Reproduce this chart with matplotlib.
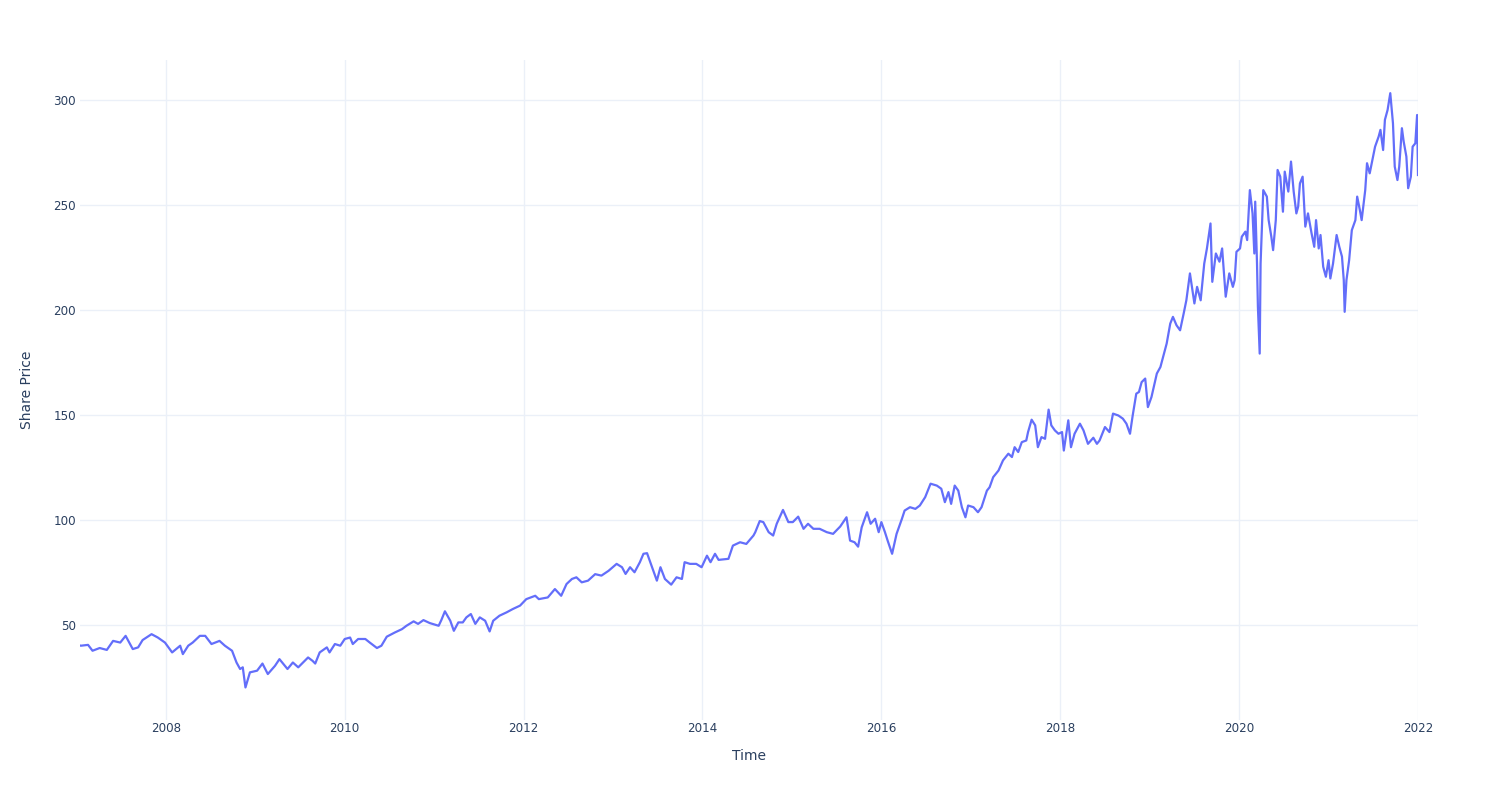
import matplotlib
matplotlib.use("Agg")
import matplotlib.pyplot as plt

# Share price (x = decimal year)
years = [
    2007.04, 2007.05, 2007.13, 2007.18, 2007.26, 2007.34, 2007.41, 2007.49, 2007.55, 2007.63,
    2007.69, 2007.74, 2007.84, 2007.91, 2007.99, 2008.07, 2008.16, 2008.19, 2008.25, 2008.30,
    2008.38, 2008.44, 2008.51, 2008.60, 2008.66, 2008.74, 2008.79, 2008.83, 2008.86, 2008.89,
    2008.94, 2009.02, 2009.08, 2009.14, 2009.22, 2009.27, 2009.36, 2009.42, 2009.48, 2009.59,
    2009.64, 2009.67, 2009.72, 2009.80, 2009.83, 2009.89, 2009.95, 2010.00, 2010.06, 2010.09,
    2010.15, 2010.23, 2010.28, 2010.36, 2010.41, 2010.47, 2010.56, 2010.64, 2010.69, 2010.77,
    2010.82, 2010.88, 2010.95, 2011.05, 2011.08, 2011.12, 2011.18, 2011.22, 2011.27, 2011.32,
    2011.36, 2011.41, 2011.46, 2011.51, 2011.57, 2011.62, 2011.66, 2011.73, 2011.81, 2011.88,
    2011.96, 2012.03, 2012.13, 2012.17, 2012.27, 2012.35, 2012.42, 2012.48, 2012.54, 2012.59,
    2012.65, 2012.72, 2012.80, 2012.87, 2012.95, 2013.04, 2013.10, 2013.14, 2013.19, 2013.24,
    2013.30, 2013.34, 2013.38, 2013.41, 2013.45, 2013.49, 2013.53, 2013.58, 2013.65, 2013.71,
    2013.77, 2013.80, 2013.86, 2013.93, 2013.99, 2014.05, 2014.09, 2014.14, 2014.18, 2014.29,
    2014.34, 2014.42, 2014.49, 2014.57, 2014.59, 2014.64, 2014.68, 2014.74, 2014.79, 2014.83,
    2014.90, 2014.96, 2015.01, 2015.07, 2015.13, 2015.18, 2015.24, 2015.31, 2015.39, 2015.46,
    2015.54, 2015.61, 2015.65, 2015.70, 2015.74, 2015.78, 2015.84, 2015.88, 2015.93, 2015.97,
    2016.00, 2016.04, 2016.07, 2016.12, 2016.17, 2016.23, 2016.26, 2016.32, 2016.38, 2016.43,
    2016.49, 2016.55, 2016.62, 2016.67, 2016.71, 2016.75, 2016.78, 2016.82, 2016.86, 2016.90,
    2016.94, 2016.97, 2017.03, 2017.08, 2017.12, 2017.18, 2017.21, 2017.25, 2017.31, 2017.36,
    2017.42, 2017.46, 2017.49, 2017.53, 2017.57, 2017.62, 2017.64, 2017.68, 2017.72, 2017.75,
    2017.79, 2017.83, 2017.87, 2017.90, 2017.94, 2017.98, 2018.02, 2018.04, 2018.09, 2018.12,
    2018.16, 2018.22, 2018.26, 2018.31, 2018.37, 2018.41, 2018.44, 2018.50, 2018.55, 2018.59,
    2018.65, 2018.70, 2018.74, 2018.78, 2018.81, 2018.85, 2018.88, 2018.91, 2018.95, 2018.98,
    2019.02, 2019.08, 2019.12, 2019.15, 2019.19, 2019.23, 2019.26, 2019.30, 2019.34, 2019.38,
    2019.41, 2019.45, 2019.50, 2019.53, 2019.57, 2019.61, 2019.64, 2019.68, 2019.70, 2019.74,
    2019.78, 2019.81, 2019.85, 2019.89, 2019.93, 2019.95, 2019.97, 2020.01, 2020.03, 2020.07,
    2020.09, 2020.12, 2020.15, 2020.17, 2020.18, 2020.20, 2020.21, 2020.23, 2020.24, 2020.27,
    2020.31, 2020.33, 2020.36, 2020.38, 2020.41, 2020.43, 2020.46, 2020.49, 2020.51, 2020.55,
    2020.58, 2020.61, 2020.64, 2020.66, 2020.68, 2020.71, 2020.74, 2020.77, 2020.81, 2020.84,
    2020.86, 2020.89, 2020.91, 2020.94, 2020.97, 2021.00, 2021.02, 2021.05, 2021.09, 2021.12,
    2021.15, 2021.17, 2021.18, 2021.20, 2021.23, 2021.26, 2021.30, 2021.32, 2021.35, 2021.37,
    2021.41, 2021.43, 2021.46, 2021.49, 2021.52, 2021.56, 2021.58, 2021.61, 2021.63, 2021.66,
    2021.69, 2021.71, 2021.72, 2021.74, 2021.77, 2021.79, 2021.82, 2021.84, 2021.87, 2021.89,
    2021.92, 2021.94, 2021.97, 2021.99, 2022.00,
]
price = [
    40.0, 39.9, 40.3, 37.5, 38.8, 37.9, 42.2, 41.4, 44.6, 38.3,
    39.1, 42.6, 45.4, 43.8, 41.4, 36.7, 39.9, 35.9, 39.9, 41.4,
    44.6, 44.6, 40.7, 42.2, 39.9, 37.5, 31.9, 28.8, 29.6, 20.0,
    27.2, 28.0, 31.4, 26.4, 30.3, 33.5, 28.8, 31.9, 29.6, 34.3,
    32.7, 31.4, 36.7, 39.1, 36.7, 40.7, 39.9, 43.1, 43.8, 40.7,
    43.1, 43.1, 41.4, 38.8, 39.9, 44.2, 46.2, 47.8, 49.4, 51.5,
    50.3, 52.1, 50.7, 49.4, 52.1, 56.3, 51.8, 47.0, 51.0, 51.0,
    53.4, 55.0, 50.3, 53.4, 51.8, 46.7, 51.8, 54.2, 55.8, 57.4,
    59.0, 62.1, 63.7, 62.1, 62.9, 66.9, 63.7, 69.3, 71.7, 72.5,
    70.1, 70.9, 74.0, 73.3, 75.6, 78.9, 77.3, 74.1, 77.3, 74.9,
    79.7, 83.7, 84.0, 80.4, 75.6, 70.9, 77.3, 71.7, 69.0, 72.5,
    71.7, 79.7, 78.9, 78.9, 77.3, 82.8, 79.7, 83.7, 80.8, 81.3,
    87.6, 89.2, 88.4, 92.4, 94.0, 99.3, 98.8, 94.0, 92.4, 98.0,
    104.6, 98.8, 98.8, 101.4, 95.6, 98.0, 95.6, 95.6, 94.0, 93.2,
    96.7, 101.1, 90.0, 89.2, 87.1, 96.3, 103.5, 98.0, 100.4, 94.0,
    98.8, 94.0, 90.0, 83.7, 93.2, 100.4, 104.3, 105.9, 105.1, 106.7,
    110.7, 117.1, 116.2, 114.7, 108.3, 113.1, 107.5, 116.2, 113.8, 105.9,
    101.1, 106.7, 105.9, 103.5, 105.9, 113.8, 115.4, 120.2, 123.4, 128.2,
    131.4, 129.8, 134.5, 132.2, 136.9, 137.7, 141.7, 147.6, 144.9, 134.5,
    139.3, 138.5, 152.4, 144.9, 142.5, 140.9, 141.7, 132.9, 147.3, 134.5,
    140.9, 145.7, 142.5, 136.1, 139.0, 136.1, 137.7, 144.1, 141.7, 150.5,
    149.6, 148.1, 145.7, 140.9, 149.6, 160.0, 160.8, 165.5, 167.2, 153.6,
    158.4, 169.6, 172.7, 177.5, 183.9, 193.4, 196.6, 192.6, 190.2, 198.2,
    204.5, 217.3, 203.0, 210.9, 204.5, 222.0, 229.2, 241.1, 213.3, 226.8,
    222.9, 229.2, 206.2, 217.3, 210.9, 214.1, 227.6, 229.2, 234.8, 237.2,
    233.2, 257.0, 245.9, 226.8, 251.5, 222.0, 201.4, 179.1, 222.0, 257.0,
    253.9, 242.7, 234.8, 228.4, 242.7, 266.6, 263.4, 246.7, 265.8, 256.3,
    270.6, 256.3, 245.9, 249.1, 260.2, 263.4, 239.6, 245.9, 236.4, 230.0,
    242.7, 229.2, 235.6, 220.5, 215.7, 223.6, 214.9, 222.0, 235.6, 230.0,
    225.3, 214.1, 199.0, 214.1, 223.6, 237.9, 242.7, 253.9, 247.5, 242.7,
    257.0, 269.8, 265.0, 271.4, 277.7, 282.5, 285.7, 276.1, 290.5, 295.2,
    303.2, 293.6, 288.9, 268.2, 261.8, 268.2, 286.5, 280.1, 273.0, 257.9,
    263.4, 277.7, 279.3, 292.8, 264.2,
]
year_ticks = [2008, 2010, 2012, 2014, 2016, 2018, 2020, 2022]
price_ticks = [50, 100, 150, 200, 250, 300]

text_color = "#2a3f5f"
grid_color = "#ebf0f8"

plt.rcParams["font.family"] = ["DejaVu Sans"]

fig = plt.figure(figsize=(15, 8), dpi=100)
ax = fig.add_axes([80 / 1500, 80 / 800, 1338 / 1500, 660 / 800])

ax.plot(years, price, color="#636efa", linewidth=1.6)

ax.set_xlim(years[0], years[-1])
ax.set_ylim(4.5, 319)
ax.set_xticks(year_ticks)
ax.set_xticklabels([str(y) for y in year_ticks])
ax.set_yticks(price_ticks)

ax.grid(True, color=grid_color, linewidth=1)
ax.set_axisbelow(True)
for s in ax.spines.values():
    s.set_visible(False)
ax.tick_params(axis="both", length=0, labelsize=8.6, colors=text_color)
ax.tick_params(axis="x", pad=1.8)
ax.tick_params(axis="y", pad=3)

ax.set_xlabel("Time", fontsize=10, color=text_color, labelpad=10)
ax.set_ylabel("Share Price", fontsize=10, color=text_color, labelpad=13.5)

fig.savefig("out.png", dpi=100, facecolor="white")
